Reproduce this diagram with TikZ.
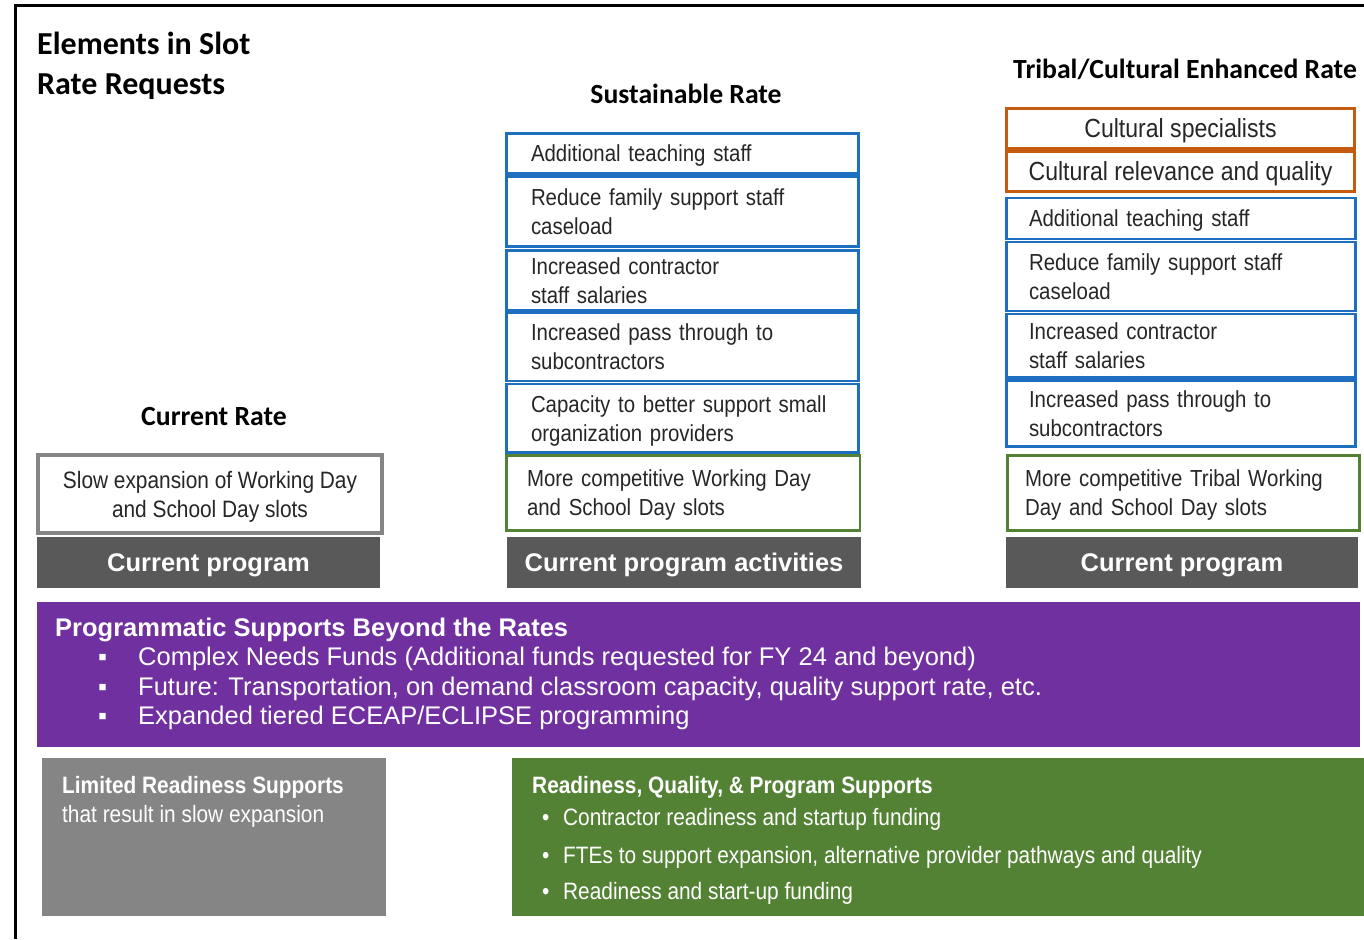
\documentclass[tikz,border=0pt]{standalone}
\usepackage{fontspec}
\setmainfont{Liberation Sans}
\newfontfamily\narrowfont[FakeStretch=0.88]{Liberation Sans}
\newfontfamily\headfont{Carlito}
\usetikzlibrary{positioning}

\definecolor{rateblue}{HTML}{1F6FC0}
\definecolor{rateorange}{HTML}{C55A11}
\definecolor{rategreen}{HTML}{548235}
\definecolor{rategray}{HTML}{858585}
\definecolor{progdark}{HTML}{595959}
\definecolor{progpurple}{HTML}{7030A0}

\begin{document}
\begin{tikzpicture}[
font=\narrowfont\fontsize{23.7}{29}\selectfont,
x=1pt,y=-1pt,
ratehead/.style={font=\headfont\bfseries\fontsize{27.7}{32}\selectfont,inner sep=0pt,anchor=base},
itembox/.style={draw,line width=2.8pt,inner sep=0pt,text depth=29pt,align=left,text=black!85,font=\narrowfont\fontsize{23.2}{29}\selectfont},
oneline/.style={text depth=0pt},
bluebox/.style={itembox,draw=rateblue},
orangebox/.style={itembox,oneline,draw=rateorange,align=center,font=\narrowfont\fontsize{26.2}{30}\selectfont},
greenbox/.style={itembox,draw=rategreen},
progbar/.style={fill=progdark,text=white,inner sep=0pt,text depth=0pt,minimum height=51pt,font=\bfseries\fontsize{25.5}{30}\selectfont},
panel/.style={inner sep=0pt,minimum height=158pt},
paneltext/.style={anchor=base west,text=white,inner sep=0pt},
beyonditem/.style={anchor=base west,text=white,inner sep=0pt,font=\fontsize{25.5}{30}\selectfont}]
    % Frame
    \useasboundingbox (0,0) rectangle (1364,939);
    \draw[line width=3.5pt] (1364,5.5) -| (15.5,939);

    % Headings
    \node[anchor=base west,inner sep=0pt,font=\headfont\bfseries\fontsize{32}{40}\selectfont] (title1) at (37,55) {Elements in Slot};
    \node[anchor=base west,inner sep=0pt,font=\headfont\bfseries\fontsize{32}{40}\selectfont] (title2) at (37,95) {Rate Requests};
    \node[ratehead] (curhead) at (214,425) {Current Rate};
    \node[ratehead] (sushead) at (686,104) {Sustainable Rate};
    \node[ratehead] (tribhead) at (1185,79) {Tribal/Cultural Enhanced Rate};

    % Current rate
    \node[itembox,oneline,draw=rategray,line width=3.5pt,align=center,minimum width=344pt,minimum height=78pt,font=\narrowfont\fontsize{23.7}{29}\selectfont] (curslots) at (210,494) {Slow expansion of Working Day\\and School Day slots};
    \node[progbar,minimum width=343pt] (curprog) at (208.5,562.5) {Current program};

    % Sustainable rate
    \node[bluebox,oneline,minimum width=352pt,text width=303pt,minimum height=40pt] (sus1) at (682.5,153.5) {Additional teaching staff};
    \node[bluebox,minimum width=352pt,text width=303pt,minimum height=70pt] (sus2) at (682.5,211.5) {Reduce family support staff\\caseload};
    \node[bluebox,minimum width=352pt,text width=303pt,minimum height=60pt] (sus3) at (682.5,280.5) {Increased contractor\\staff salaries};
    \node[bluebox,minimum width=352pt,text width=303pt,minimum height=68.5pt] (sus4) at (682.5,346.75) {Increased pass through to\\subcontractors};
    \node[bluebox,minimum width=352pt,text width=303pt,minimum height=68.5pt] (sus5) at (682.5,418.25) {Capacity to better support small\\organization providers};
    \node[greenbox,minimum width=353.5pt,text width=312.5pt,minimum height=75pt] (susslots) at (683.25,493) {More competitive Working Day\\and School Day slots};
    \node[progbar,minimum width=354pt] (susprog) at (684,562.5) {Current program activities};

    % Tribal/cultural rate
    \node[orangebox,minimum width=348pt,minimum height=40pt] (trib1) at (1180.5,128.5) {Cultural specialists};
    \node[orangebox,minimum width=348pt,minimum height=40pt] (trib2) at (1180.5,171.5) {Cultural relevance and quality};
    \node[bluebox,oneline,minimum width=349pt,text width=304pt,minimum height=41pt] (trib3) at (1181,218.5) {Additional teaching staff};
    \node[bluebox,minimum width=349pt,text width=304pt,minimum height=69pt] (trib4) at (1181,276.5) {Reduce family support staff\\caseload};
    \node[bluebox,minimum width=349pt,text width=304pt,minimum height=63.5pt] (trib5) at (1181,345.75) {Increased contractor\\staff salaries};
    \node[bluebox,minimum width=349pt,text width=304pt,minimum height=66pt] (trib6) at (1181,413.5) {Increased pass through to\\subcontractors};
    \node[greenbox,minimum width=352pt,text width=317pt,minimum height=75pt] (tribslots) at (1183.5,493) {More competitive Tribal Working\\Day and School Day slots};
    \node[progbar,minimum width=352pt] (tribprog) at (1182,562.5) {Current program};

    % Beyond the rates
    \node[fill=progpurple,inner sep=0pt,minimum width=1323pt,minimum height=145pt] (beyond) at (698.5,674.5) {};
    \node[beyonditem,font=\bfseries\fontsize{25.5}{30}\selectfont] (beyondtitle) at (55,636) {Programmatic Supports Beyond the Rates};
    \node[beyonditem] (beyond1) at (98,665) {\makebox[40pt][l]{▪}Complex Needs Funds (Additional funds requested for FY 24 and beyond)};
    \node[beyonditem] (beyond2) at (98,695) {\makebox[40pt][l]{▪}Future: Transportation, on demand classroom capacity, quality support rate, etc.};
    \node[beyonditem] (beyond3) at (98,724) {\makebox[40pt][l]{▪}Expanded tiered ECEAP/ECLIPSE programming};

    % Supports
    \node[panel,fill=rategray,minimum width=344pt] (limited) at (214,837) {};
    \node[paneltext,font=\narrowfont\bfseries\fontsize{23.7}{29}\selectfont] (limitedtitle) at (62,793) {Limited Readiness Supports};
    \node[paneltext] (limitedtext) at (62,822) {that result in slow expansion};

    \node[panel,fill=rategreen,minimum width=852pt] (readiness) at (938,837) {};
    \node[paneltext,font=\narrowfont\bfseries\fontsize{23.7}{29}\selectfont] (readytitle) at (532,793) {Readiness, Quality, \& Program Supports};
    \node[paneltext] (ready1) at (542,825) {\makebox[21pt][l]{•}Contractor readiness and startup funding};
    \node[paneltext] (ready2) at (542,863) {\makebox[21pt][l]{•}FTEs to support expansion, alternative provider pathways and quality};
    \node[paneltext] (ready3) at (542,899) {\makebox[21pt][l]{•}Readiness and start-up funding};
\end{tikzpicture}
\end{document}
